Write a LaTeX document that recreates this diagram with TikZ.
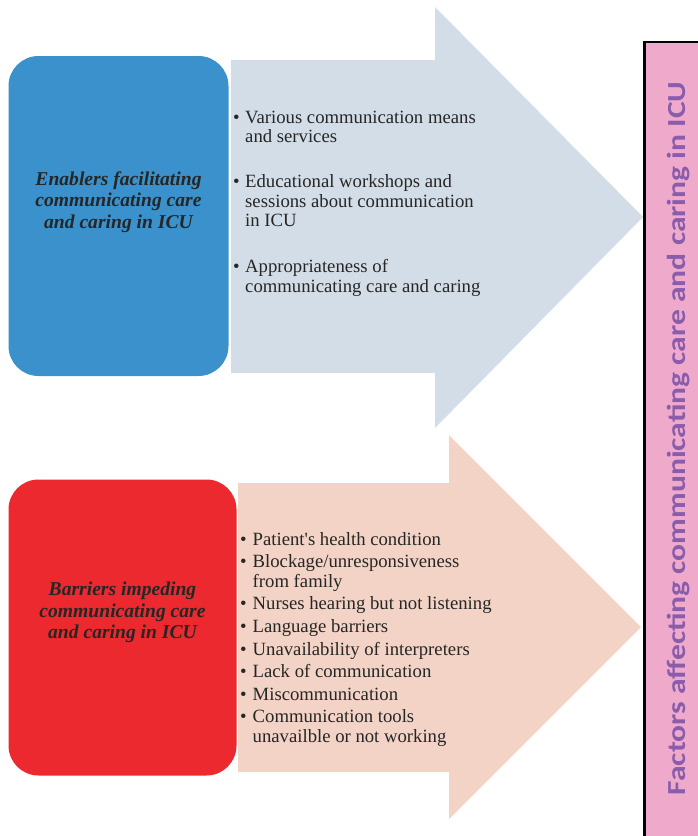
\documentclass[tikz,border=0pt]{standalone}
\usepackage{fontspec}
\setmainfont{Liberation Serif}
\newfontfamily\barfont{Carlito}[FakeStretch=1.215]
\usetikzlibrary{positioning}

\definecolor{enablerblue}{RGB}{58,145,204}
\definecolor{barrierred}{RGB}{236,41,46}
\definecolor{arrowblue}{RGB}{211,221,231}
\definecolor{arrowpeach}{RGB}{242,211,198}
\definecolor{barpink}{RGB}{239,170,203}
\definecolor{barpurple}{RGB}{137,92,172}

\begin{document}
\begin{tikzpicture}[x=1pt,y=-1pt,
    catbox/.style={rectangle,rounded corners=30pt,inner sep=0pt},
    cattitle/.style={align=center,inner sep=0pt,text=black!85,font=\fontsize{19.6}{21.4}\selectfont\bfseries\itshape},
    bullets/.style={anchor=base west,inner sep=0pt,text=black!85,font=\fontsize{18.7}{19.4}\selectfont}]

\useasboundingbox (0,0) rectangle (698,836);
\clip (0,0) rectangle (698,836);

% Big arrows
\fill[arrowblue] (231,60) -- (435,60) -- (435,7) -- (643,217) -- (435,428) -- (435,373) -- (231,373) -- cycle;
\fill[arrowpeach] (238,483) -- (449,483) -- (449,435) -- (641,627) -- (449,819) -- (449,772) -- (238,772) -- cycle;

% Enablers
\node[catbox,fill=enablerblue,minimum width=220pt,minimum height=320pt] (enabler) at (118.5,216) {};
\node[cattitle] (enablerTitle) at ([yshift=14pt]enabler.center) {Enablers facilitating\\communicating care\\and caring in ICU};
\node[bullets] (enablerList) at (233,123.3) {%
  \begin{tabular}[t]{@{}p{12pt}@{}l@{}}
  \textbullet & Various communication means\\
              & and services\\[25.5pt]
  \textbullet & Educational workshops and\\
              & sessions about communication\\
              & in ICU\\[27pt]
  \textbullet & Appropriateness of\\
              & communicating care and caring
  \end{tabular}};

% Barriers
\node[catbox,fill=barrierred,minimum width=228pt,minimum height=296pt] (barrier) at (122.5,627.5) {};
\node[cattitle] (barrierTitle) at ([yshift=15pt]barrier.center) {Barriers impeding\\communicating care\\and caring in ICU};
\node[bullets,font=\fontsize{18.7}{19.6}\selectfont] (barrierList) at (240,545) {%
  \begin{tabular}[t]{@{}p{12.5pt}@{}l@{}}
  \textbullet & Patient\textquotesingle s health condition\\[3pt]
  \textbullet & Blockage/unresponsiveness\\
              & from family\\[3pt]
  \textbullet & Nurses hearing but not listening\\[3pt]
  \textbullet & Language barriers\\[3pt]
  \textbullet & Unavailability of interpreters\\[3pt]
  \textbullet & Lack of communication\\[3pt]
  \textbullet & Miscommunication\\[3pt]
  \textbullet & Communication tools\\
              & unavailble or not working
  \end{tabular}};

% Side bar
\draw[fill=barpink,line width=2.6pt] (644.3,42) rectangle (720,860);
\node[rotate=90,anchor=base,inner sep=0pt,text=barpurple,font=\barfont\bfseries\fontsize{26}{30}\selectfont] (barTitle) at (685,438.5) {Factors affecting communicating care and caring in ICU};

\end{tikzpicture}
\end{document}
